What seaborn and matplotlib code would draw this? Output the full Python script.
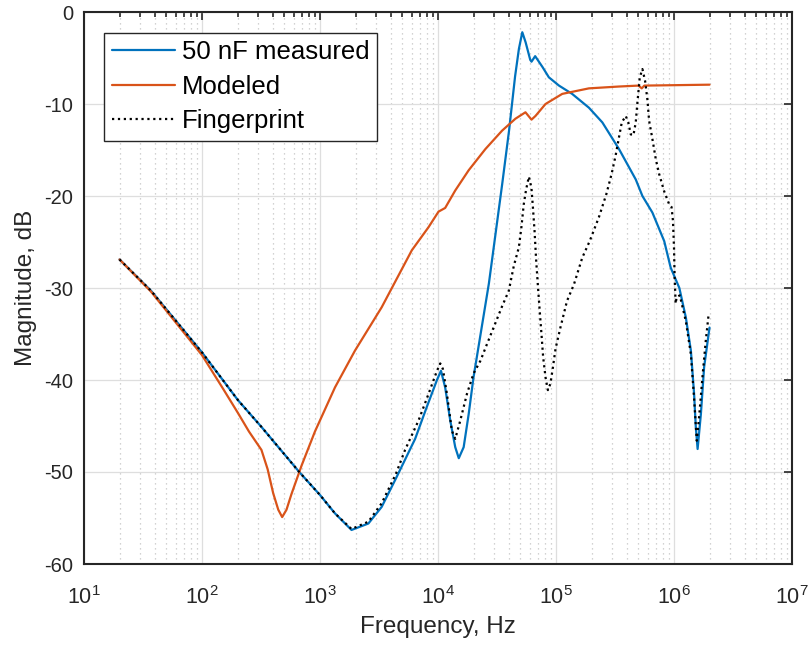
import numpy as np
import pandas as pd
import matplotlib
matplotlib.use("Agg")
import matplotlib.pyplot as plt
import seaborn as sns
from matplotlib.ticker import LogLocator, NullFormatter, FixedLocator

# Measured response of the 50 nF part
meas_freq = [20, 37, 100, 202, 319, 667, 1000, 1340, 1850, 2570, 3330, 4400, 6400,
             8050, 9800, 10600, 11500, 12700, 14000, 15000, 16500, 18200, 20000,
             27000, 35000, 40000, 45000, 48500, 51800, 55300, 60500, 62000, 66600,
             77000, 87000, 106000, 137000, 190000, 247000, 342000, 474000, 540000,
             656000, 826000, 938000, 1110000, 1260000, 1390000, 1480000, 1530000,
             1585000, 1690000, 1800000, 2000000]
meas_db = [-26.9, -30.3, -37.0, -42.2, -45.1, -50.0, -52.5, -54.5, -56.3, -55.6, -53.8,
           -50.7, -46.4, -42.9, -40.0, -39.0, -40.8, -44.4, -47.3, -48.5, -47.3, -43.7,
           -39.7, -29.5, -18.7, -12.9, -7.0, -4.0, -2.2, -3.3, -5.2, -5.4, -4.8,
           -6.0, -7.1, -8.0, -8.9, -10.4, -12.0, -14.9, -18.2, -20.0,
           -21.8, -24.9, -27.8, -30.0, -33.2, -36.8, -41.5, -45.1,
           -47.5, -43.7, -38.6, -34.3]

# Model prediction
model_freq = [20, 37, 100, 150, 202, 250, 319, 360, 401, 443, 478, 520, 573, 698, 906,
              1340, 1980, 3330, 6000, 8300, 10100, 11500, 14000, 18200, 25200, 34900,
              45300, 55100, 62000, 67000, 81500, 113000, 190000, 342000, 500000,
              533000, 560000, 2000000]
model_db = [-26.9, -30.4, -37.3, -40.9, -43.6, -45.6, -47.6, -49.7, -52.3, -54.1, -54.9,
            -54.1, -52.4, -49.3, -45.6, -40.8, -36.8, -32.1, -25.9, -23.4, -21.7, -21.3,
            -19.4, -17.2, -14.9, -12.9, -11.6, -10.9, -11.7, -11.3, -10.0, -8.9, -8.3,
            -8.1, -8.0, -8.3, -8.0, -7.9]

# Fingerprint trace
finger_freq = [20, 37, 100, 202, 319, 667, 1000, 1340, 1850, 2570, 3330, 4400, 5260,
               6840, 8320, 9800, 10450, 11000, 11900, 13100, 14000, 15450, 17600,
               20000, 22900, 26000, 34900, 39800, 43900, 48400, 50900, 53300, 55800,
               58900, 61900, 63700, 65800, 67900, 70100, 72400, 75300, 77800, 81500,
               85300, 89700, 94200, 99100, 109000, 124000, 142000, 167000, 193000,
               231000, 267000, 296000, 320000, 342000, 361000, 390000, 410000,
               430000, 453000, 474000, 490000, 513000, 540000, 569000, 596000,
               615000, 656000, 701000, 748000, 826000, 910000, 953000, 980000,
               1000000, 1012000, 1033000, 1052000, 1120000, 1260000, 1390000,
               1480000, 1540000, 1560000, 1630000, 1750000, 1860000, 1960000]
finger_db = [-26.9, -30.3, -37.0, -42.2, -45.1, -50.0, -52.5, -54.5, -56.2, -55.4, -53.4,
             -50.2, -47.6, -44.4, -41.5, -39.0, -38.2, -38.8, -41.5, -45.5, -46.4, -44.4,
             -41.5, -39.3, -37.9, -36.1, -32.0, -30.3, -27.6, -25.6, -23.4, -20.9, -19.3,
             -17.9, -19.1, -21.2, -23.8, -27.0, -29.6, -32.1, -35.0, -37.5, -39.7,
             -41.1, -40.4, -38.6, -36.6, -34.3, -31.4, -29.6, -26.7, -24.9,
             -22.3, -19.8, -17.6, -15.6, -13.6, -12.0, -11.3, -12.0,
             -13.3, -13.4, -12.0, -9.8, -7.1, -6.2, -7.5, -9.6,
             -11.8, -13.8, -16.0, -17.6, -19.5, -20.9, -21.2, -22.7,
             -25.6, -28.8, -31.7, -31.0, -30.8, -33.6, -37.2,
             -42.0, -45.5, -46.6, -44.1, -39.4, -35.7, -33.0]

x_major = [1e1, 1e2, 1e3, 1e4, 1e5, 1e6, 1e7]
y_major = [-60, -50, -40, -30, -20, -10, 0]

series = [
    (meas_freq, meas_db, "50 nF measured", "#0072BD", "-"),
    (model_freq, model_db, "Modeled", "#D95319", "-"),
    (finger_freq, finger_db, "Fingerprint", "black", ":"),
]

sns.set_theme(style="white")
plt.rcParams["font.family"] = ["Liberation Sans", "DejaVu Sans"]
plt.rcParams["mathtext.fontset"] = "custom"
plt.rcParams["mathtext.rm"] = "Liberation Sans"
plt.rcParams["mathtext.it"] = "Liberation Sans:italic"
plt.rcParams["mathtext.bf"] = "Liberation Sans:bold"
plt.rcParams["mathtext.default"] = "regular"
plt.rcParams["axes.unicode_minus"] = False

fig = plt.figure(figsize=(8.08, 6.46), dpi=100)
ax = fig.add_axes([84 / 808, 1 - 564 / 646, 708 / 808, 552 / 646])

for freq, db, name, color, ls in series:
    df = pd.DataFrame({"freq": freq, "db": db})
    sns.lineplot(data=df, x="freq", y="db", ax=ax, color=color, linestyle=ls,
                 linewidth=1.6, label=name, sort=False, estimator=None)

ax.set_xscale("log")
ax.set_xlim(x_major[0], x_major[-1])
ax.set_ylim(y_major[0], y_major[-1])
ax.xaxis.set_major_locator(FixedLocator(x_major))
ax.xaxis.set_minor_locator(LogLocator(base=10, subs=np.arange(2, 10), numticks=100))
ax.xaxis.set_minor_formatter(NullFormatter())
ax.set_yticks(y_major)

ax.set_axisbelow(True)
ax.grid(which="major", color="#dedede", linewidth=0.9, linestyle="-")
ax.grid(which="minor", axis="x", color="#c4c4c4", linewidth=0.9, linestyle=(0, (1, 3)))

dark = "#262626"
for sp in ax.spines.values():
    sp.set_color(dark)
    sp.set_linewidth(1.5)
ax.tick_params(which="both", direction="in", top=True, right=True, color=dark,
               labelcolor=dark, width=1.2)
ax.tick_params(which="major", length=6)
ax.tick_params(which="minor", length=3.5)
ax.tick_params(axis="x", pad=16, labelsize=15.5)
ax.tick_params(axis="y", pad=8, labelsize=14.5)

ax.set_xlabel("Frequency, Hz", fontsize=17.5, color=dark, labelpad=5)
ax.set_ylabel("Magnitude, dB", fontsize=17.5, color=dark, labelpad=5)

leg = ax.legend(loc="upper left", bbox_to_anchor=(0.0282, 0.9625), fontsize=18.5,
                frameon=True, fancybox=False, framealpha=1, edgecolor=dark,
                handlelength=2.45, handletextpad=0.27, borderpad=0.3,
                labelspacing=0.4, borderaxespad=0)
leg.get_frame().set_linewidth(1.0)
for t in leg.get_texts():
    t.set_color("black")

fig.savefig("out.png", dpi=100)
